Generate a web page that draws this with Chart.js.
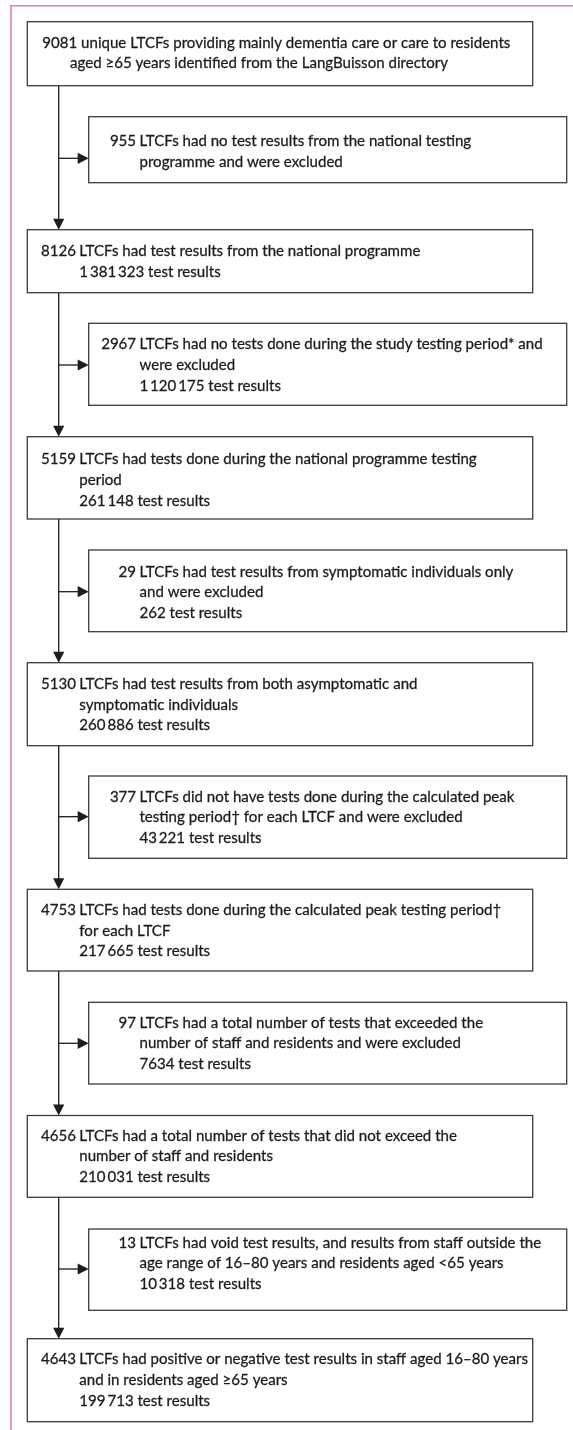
<!DOCTYPE html>
<html>
<head>
<meta charset="utf-8">
<script src="https://cdn.jsdelivr.net/npm/chart.js@4/dist/chart.umd.min.js"></script>
<style>
html,body{margin:0;padding:0;background:#fff;}
#wrap{width:573px;height:1430px;}
canvas{display:block;}
</style>
</head>
<body>
<div id="wrap"><canvas id="c" width="573" height="1430"></canvas></div>
<script>
// ---- data ----
const mainCounts = [9081, 8126, 5159, 5130, 4753, 4656, 4643];
const mainTests = [null, 1381323, 261148, 260886, 217665, 210031, 199713];
const mainLabels = [
  ["unique LTCFs providing mainly dementia care or care to residents", "aged ≥65 years identified from the LangBuisson directory"],
  ["LTCFs had test results from the national programme"],
  ["LTCFs had tests done during the national programme testing", "period"],
  ["LTCFs had test results from both asymptomatic and", "symptomatic individuals"],
  ["LTCFs had tests done during the calculated peak testing period†", "for each LTCF"],
  ["LTCFs had a total number of tests that did not exceed the", "number of staff and residents"],
  ["LTCFs had positive or negative test results in staff aged 16–80 years", "and in residents aged ≥65 years"]
];
const exclCounts = [955, 2967, 29, 377, 97, 13];
const exclTests = [null, 1120175, 262, 43221, 7634, 10318];
const exclLabels = [
  ["LTCFs had no test results from the national testing", "programme and were excluded"],
  ["LTCFs had no tests done during the study testing period* and", "were excluded"],
  ["LTCFs had test results from symptomatic individuals only", "and were excluded"],
  ["LTCFs did not have tests done during the calculated peak", "testing period† for each LTCF and were excluded"],
  ["LTCFs had a total number of tests that exceeded the", "number of staff and residents and were excluded"],
  ["LTCFs had void test results, and results from staff outside the", "age range of 16–80 years and residents aged <65 years"]
];

// ---- layout (positions in scale units) ----
const mainTop = [21.7, 229.7, 436.7, 662.7, 889.3, 1115.5, 1338.7];
const mainBottom = [85.7, 292.7, 519, 745.7, 971, 1197.3, 1421.7];
const mainBase = [47.7, 256, 464.3, 689, 915, 1140.7, 1364.3];
const exclTop = [116.7, 323.3, 550, 776, 1002.3, 1229];
const exclBottom = [182.7, 405.3, 631.7, 858.3, 1084, 1310.3];
const exclBase = [146, 349.3, 576.7, 801.7, 1027.7, 1247.7];
const exclArrowY = [158.3, 365, 591.7, 816.7, 1043.3, 1269];
const L = {
  mainX0: 27.3, mainX1: 532.7, exclX0: 88.7, exclX1: 566.7, spineX: 58.7,
  mainCol: 79.3, exclCol: 139.5, numGap: 3.4, lineH: 20.6,
  firstLine1X: 42.3, firstLine2X: 70,
  frameX: 11, frameY: 5.7
};

function fmt(n) {
  const s = String(n);
  if (s.length <= 4) return s;
  return s.replace(/\B(?=(\d{3})+(?!\d))/g, '\u2009');
}

const FONT = '15.7px Lato';
const TXT = '#1e1c1d';

const flowPlugin = {
  id: 'flow',
  afterDraw(chart) {
    const ctx = chart.ctx;
    const xs = chart.scales.x, ys = chart.scales.y;
    const X = v => xs.getPixelForValue(v);
    const Y = v => ys.getPixelForValue(v);
    ctx.save();
    // frame
    ctx.strokeStyle = '#e0829c';
    ctx.lineWidth = 1.6;
    ctx.beginPath();
    ctx.moveTo(X(L.frameX), Y(1430));
    ctx.lineTo(X(L.frameX), Y(L.frameY));
    ctx.lineTo(X(573), Y(L.frameY));
    ctx.stroke();

    ctx.font = FONT;
    const ref = ctx.measureText('LTCFs had tests done during the national programme testing').width;
    const sx = 397.4 / ref;

    function text(str, x, y, align) {
      ctx.save();
      ctx.translate(X(x), Y(y));
      ctx.scale(sx, 1);
      ctx.textAlign = align || 'left';
      ctx.textBaseline = 'alphabetic';
      ctx.fillStyle = TXT;
      ctx.strokeStyle = TXT;
      ctx.lineWidth = 0.3;
      ctx.lineJoin = 'round';
      ctx.font = FONT;
      ctx.fillText(str, 0, 0);
      ctx.strokeText(str, 0, 0);
      ctx.restore();
    }
    function box(x0, y0, x1, y1) {
      ctx.strokeStyle = '#3c3a3b';
      ctx.lineWidth = 1.3;
      ctx.strokeRect(X(x0), Y(y0), X(x1) - X(x0), Y(y1) - Y(y0));
    }
    function arrowDown(x, yTip) {
      ctx.fillStyle = TXT;
      ctx.beginPath();
      ctx.moveTo(X(x), Y(yTip));
      ctx.lineTo(X(x - 5.6), Y(yTip - 11));
      ctx.lineTo(X(x + 5.6), Y(yTip - 11));
      ctx.closePath();
      ctx.fill();
    }
    function arrowRight(xTip, y) {
      ctx.fillStyle = TXT;
      ctx.beginPath();
      ctx.moveTo(X(xTip), Y(y));
      ctx.lineTo(X(xTip - 11), Y(y - 5.6));
      ctx.lineTo(X(xTip - 11), Y(y + 5.6));
      ctx.closePath();
      ctx.fill();
    }

    // connectors
    ctx.strokeStyle = TXT;
    ctx.lineWidth = 1.3;
    for (let i = 0; i < mainCounts.length - 1; i++) {
      ctx.beginPath();
      ctx.moveTo(X(L.spineX), Y(mainBottom[i]));
      ctx.lineTo(X(L.spineX), Y(mainTop[i + 1] - 6));
      ctx.stroke();
      ctx.beginPath();
      ctx.moveTo(X(L.spineX), Y(exclArrowY[i]));
      ctx.lineTo(X(L.exclX0 - 6), Y(exclArrowY[i]));
      ctx.stroke();
      arrowDown(L.spineX, mainTop[i + 1]);
      arrowRight(L.exclX0, exclArrowY[i]);
    }

    // main boxes
    mainCounts.forEach((n, i) => {
      box(L.mainX0, mainTop[i], L.mainX1, mainBottom[i]);
      const lines = mainLabels[i];
      let y = mainBase[i];
      if (i === 0) {
        text(fmt(n) + ' ' + lines[0], L.firstLine1X, y);
        text(lines[1], L.firstLine2X, y + L.lineH);
        return;
      }
      text(fmt(n), L.mainCol - L.numGap, y, 'right');
      lines.forEach((ln, k) => text(ln, L.mainCol, y + k * L.lineH));
      if (mainTests[i] != null) {
        text(fmt(mainTests[i]) + ' test results', L.mainCol, y + lines.length * L.lineH);
      }
    });

    // exclusion boxes
    exclCounts.forEach((n, i) => {
      box(L.exclX0, exclTop[i], L.exclX1, exclBottom[i]);
      const lines = exclLabels[i];
      const y = exclBase[i];
      text(fmt(n), L.exclCol - L.numGap, y, 'right');
      lines.forEach((ln, k) => text(ln, L.exclCol, y + k * L.lineH));
      if (exclTests[i] != null) {
        text(fmt(exclTests[i]) + ' test results', L.exclCol, y + lines.length * L.lineH);
      }
    });
    ctx.restore();
  }
};

new Chart(document.getElementById('c'), {
  type: 'scatter',
  data: { datasets: [{ data: [], pointRadius: 0 }] },
  options: {
    responsive: false,
    animation: false,
    events: [],
    layout: { padding: 0 },
    plugins: { legend: { display: false }, tooltip: { enabled: false } },
    scales: {
      x: { type: 'linear', min: 0, max: 573, display: false },
      y: { type: 'linear', min: 0, max: 1430, reverse: true, display: false }
    }
  },
  plugins: [flowPlugin]
});
</script>
</body>
</html>
